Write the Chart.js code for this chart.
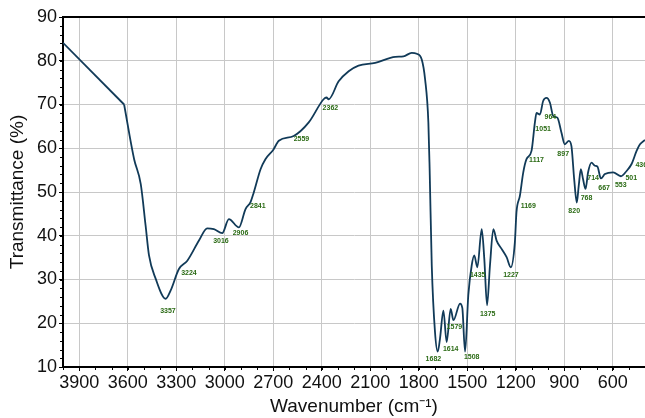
<!DOCTYPE html>
<html>

<head>
  <title>IR Spectrum</title>
  <script src="https://cdn.jsdelivr.net/npm/chart.js"></script>
  <style>
    html, body { margin: 0; padding: 0; background: #fff; }
    #wrap { width: 645px; height: 418px; }
  </style>
</head>

<body>
  <div id="wrap"><canvas id="myChart" width="645" height="418"></canvas></div>
  <script>
    // spectrum: wavenumber (cm-1) and transmittance (%)
    var wavenumbers = [4000, 3622, 3560, 3519, 3489, 3468, 3427, 3365, 3334, 3283, 3231, 3159, 3108, 3067, 3015,
      2974, 2912, 2871, 2840, 2820, 2778, 2748, 2700, 2665, 2573, 2480, 2388, 2370, 2357, 2295, 2233, 2172, 2069,
      1945, 1894, 1843, 1812, 1781, 1760, 1740, 1732, 1719, 1699, 1682, 1668, 1647, 1627, 1602, 1585, 1544, 1530,
      1513, 1493, 1472, 1456, 1437, 1410, 1394, 1377, 1359, 1338, 1318, 1287, 1256, 1230, 1205, 1195, 1174, 1153,
      1133, 1102, 1081, 1071, 1050, 1030, 1009, 988, 968, 942, 917, 896, 871, 855, 838, 822, 810, 797, 783, 768,
      752, 731, 710, 694, 673, 648, 597, 549, 514, 483, 452, 431, 400];
    var transmittance = [84.1, 70, 57.5, 51.8, 42.3, 35.5, 30.2, 25.6, 27.5, 32.4, 34.3, 38.9, 41.7, 41.5, 40.6,
      43.8, 41.9, 46.1, 47.7, 49.9, 55.2, 57.5, 59.6, 61.7, 62.8, 65.9, 71.2, 71.6, 71.2, 75.3, 77.6, 78.9, 79.5,
      80.9, 81.0, 81.8, 81.6, 80.3, 75.7, 65.9, 55, 33.2, 18.0, 13.5, 16.5, 22.9, 15.7, 23.3, 20.7, 24.5, 23.5,
      13.5, 26.4, 33.2, 35.5, 32.8, 41.5, 34.7, 24.1, 33.2, 41.5, 38.9, 37.0, 35.1, 32.8, 38.5, 45.4, 49.1, 54.5,
      57.5, 59.4, 65.9, 68.1, 67.7, 70.8, 71.5, 70.4, 67.4, 67.0, 63.6, 60.9, 61.7, 60.5, 52.9, 47.6, 51.4, 55.2,
      52.9, 50.7, 54.5, 56.7, 56.0, 55.8, 53.1, 54.1, 54.5, 53.6, 54.8, 56.4, 59.4, 60.9, 61.9];

    // peak annotations: text and where it sits (wavenumber, transmittance)
    var peakLabels = ['3357', '3224', '3016', '2906', '2841', '2559', '2362', '1682', '1614', '1579', '1508', '1435',
      '1375', '1227', '1169', '1117', '1051', '964', '897', '820', '768', '714', '667', '553', '501', '436'];
    var peakLabelX = [3351, 3221, 3023, 2902, 2795, 2525, 2346, 1709, 1602, 1579, 1472, 1435,
      1373, 1229, 1122, 1071, 1030, 985, 906, 838, 762, 721, 653, 550, 485, 423];
    var peakLabelY = [22.7, 31.5, 38.7, 40.6, 46.9, 62.1, 69.1, 11.9, 14.1, 19.2, 12.2, 31.1,
      22.2, 31.1, 46.7, 57.3, 64.3, 67.1, 58.6, 45.7, 48.6, 53.2, 50.9, 51.6, 53.2, 56.1];

    var xTicks = [3900, 3600, 3300, 3000, 2700, 2400, 2100, 1800, 1500, 1200, 900, 600];

    var points = wavenumbers.map(function (w, i) { return { x: w, y: transmittance[i] }; });
    // the baseline run from 4000 down to ~3620 is a plain straight line in the scan
    var straightPart = points.slice(0, 2);
    var curvedPart = points.slice(1);

    var font = "'Liberation Sans', Arial, sans-serif";
    var lineColor = '#113a58';

    var extras = {
      id: 'extras',
      afterDraw: function (chart) {
        var ctx = chart.ctx;
        var a = chart.chartArea;
        var xs = chart.scales.x, ys = chart.scales.y;
        ctx.save();
        // top frame line
        ctx.strokeStyle = '#000';
        ctx.lineWidth = 2;
        ctx.beginPath();
        ctx.moveTo(a.left, a.top);
        ctx.lineTo(a.right, a.top);
        ctx.stroke();
        // minor ticks
        ctx.lineWidth = 1;
        ctx.beginPath();
        for (var w = 500; w <= 4000; w += 100) {
          var px = Math.round(xs.getPixelForValue(w)) + 0.5;
          ctx.moveTo(px, a.bottom);
          ctx.lineTo(px, a.bottom + 3);
        }
        for (var t = 12; t < 90; t += 2) {
          var py = Math.round(ys.getPixelForValue(t)) + 0.5;
          ctx.moveTo(a.left, py);
          ctx.lineTo(a.left - 3, py);
        }
        ctx.stroke();
        // peak labels
        ctx.fillStyle = '#2a6a14';
        ctx.font = 'bold 7px ' + font;
        ctx.textAlign = 'center';
        ctx.textBaseline = 'middle';
        peakLabels.forEach(function (s, i) {
          ctx.fillText(s, xs.getPixelForValue(peakLabelX[i]), ys.getPixelForValue(peakLabelY[i]));
        });
        ctx.restore();
      }
    };

    var ctx = document.getElementById('myChart').getContext('2d');
    var myChart = new Chart(ctx, {
      type: 'line',
      data: {
        datasets: [{
          data: straightPart,
          borderColor: lineColor,
          borderWidth: 1.8,
          pointRadius: 0,
          tension: 0,
          fill: false
        }, {
          data: curvedPart,
          borderColor: lineColor,
          borderWidth: 1.8,
          pointRadius: 0,
          cubicInterpolationMode: 'monotone',
          fill: false
        }]
      },
      options: {
        responsive: false,
        animation: false,
        layout: { padding: { top: 17, right: 0, left: 0, bottom: 0 } },
        plugins: { legend: { display: false }, tooltip: { enabled: false } },
        scales: {
          x: {
            type: 'linear',
            reverse: true,
            min: 400,
            max: 4000,
            afterBuildTicks: function (scale) {
              scale.ticks = xTicks.map(function (v) { return { value: v }; });
            },
            afterFit: function (scale) { scale.height = 51; },
            grid: { color: '#c8c8c8', lineWidth: 1, tickLength: 4, tickColor: '#000' },
            border: { display: true, color: '#000', width: 2 },
            ticks: {
              color: '#111',
              font: { family: font, size: 18 },
              padding: 1,
              maxRotation: 0,
              autoSkip: false,
              callback: function (v) { return String(v); }
            },
            title: {
              display: true,
              text: 'Wavenumber (cm\u207B\u00B9)',
              color: '#111',
              font: { family: font, size: 19 },
              padding: { top: 0, bottom: 0 }
            }
          },
          y: {
            min: 10,
            max: 90,
            afterFit: function (scale) { scale.width = 63; },
            grid: { color: '#c8c8c8', lineWidth: 1, tickLength: 4, tickColor: '#000' },
            border: { display: true, color: '#000', width: 2 },
            ticks: {
              stepSize: 10,
              color: '#111',
              font: { family: font, size: 18 },
              padding: 2
            },
            title: {
              display: true,
              text: 'Transmittance (%)',
              color: '#111',
              font: { family: font, size: 19 },
              padding: { top: 6, bottom: 0 }
            }
          }
        }
      },
      plugins: [extras]
    });
  </script>
</body>

</html>
